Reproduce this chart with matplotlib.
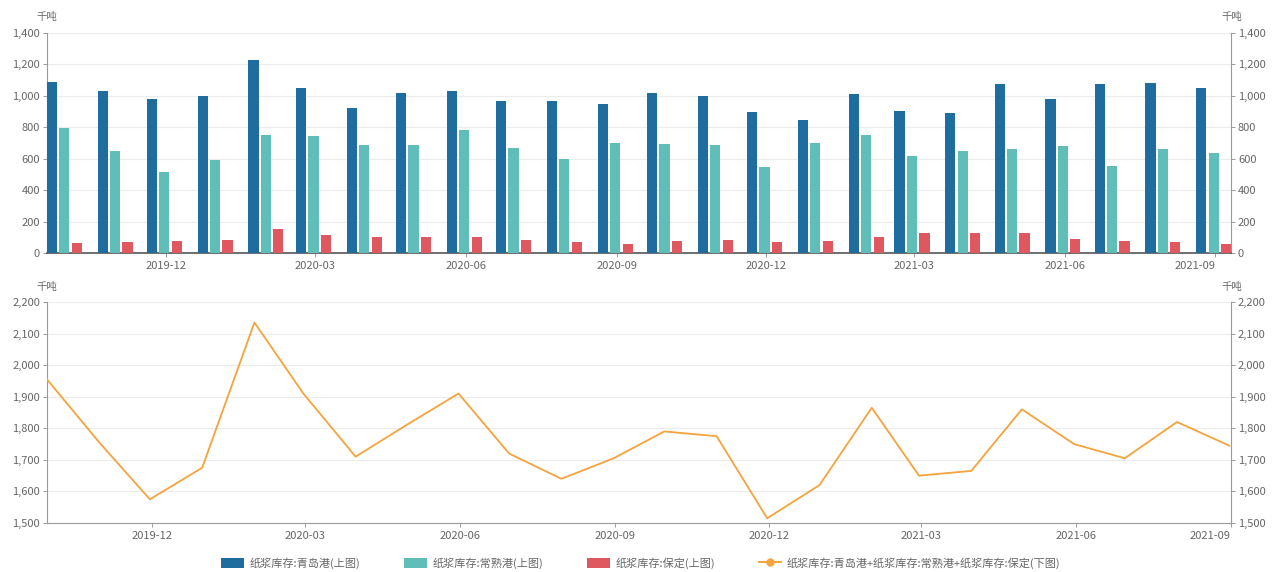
import matplotlib
matplotlib.use("Agg")
import matplotlib.pyplot as plt
import matplotlib.dates as mdates
import numpy as np
import pandas as pd
from matplotlib.lines import Line2D
from matplotlib.patches import Patch

plt.rcParams['font.family'] = ['Noto Sans CJK SC', 'DejaVu Sans']

dates = pd.date_range("2019-09-30", "2021-08-31", freq="ME")
qingdao = [1090, 1030, 980, 1000, 1230, 1050, 920, 1020, 1030, 970, 970, 950,
           1020, 1000, 900, 845, 1010, 905, 890, 1075, 980, 1075, 1085, 1050]
changshu = [795, 650, 515, 590, 750, 745, 690, 690, 780, 670, 600, 700,
            695, 685, 550, 700, 750, 620, 650, 660, 680, 555, 665, 635]
baoding = [65, 70, 75, 85, 155, 115, 100, 105, 100, 80, 70, 55,
           75, 85, 70, 75, 105, 125, 125, 125, 90, 75, 70, 60]
total = [1955, 1755, 1575, 1675, 2135, 1910, 1710, 1810, 1910, 1720, 1640, 1705,
         1790, 1775, 1515, 1620, 1865, 1650, 1665, 1860, 1750, 1705, 1820, 1745]

labels = ["纸浆库存:青岛港(上图)", "纸浆库存:常熟港(上图)", "纸浆库存:保定(上图)",
          "纸浆库存:青岛港+纸浆库存:常熟港+纸浆库存:保定(下图)"]
unit = "千吨"

c_blue = "#1f6c9e"
c_teal = "#5fbfb8"
c_red = "#e0585f"
c_line = "#f5a33c"
grid_c = "#ececec"
axis_c = "#9a9a9a"
text_c = "#666666"

W, H = 1280, 572
fig = plt.figure(figsize=(W / 100, H / 100), dpi=100)

def ax_rect(l, t, r, b):
    return [l / W, 1 - b / H, (r - l) / W, (b - t) / H]

ax1 = fig.add_axes(ax_rect(47, 33, 1231, 253))
ax2 = fig.add_axes(ax_rect(47, 302, 1231, 523))

x = mdates.date2num(dates)
bw = 6.2
off = 7.6
ax1.bar(x - off, qingdao, width=bw, color=c_blue, zorder=3)
ax1.bar(x, changshu, width=bw, color=c_teal, zorder=3)
ax1.bar(x + off, baoding, width=bw, color=c_red, zorder=3)
ax1.set_xlim(x[0] - 10.5, x[-1] + 10.5)
ax1.set_ylim(0, 1400)
ax1.set_yticks(np.arange(0, 1401, 200))

ax2.plot(x, total, color=c_line, lw=1.3, zorder=3)
ax2.set_xlim(x[0], x[-1])
ax2.set_ylim(1500, 2200)
ax2.set_yticks(np.arange(1500, 2201, 100))

tick_dates = pd.date_range("2019-12-01", "2021-09-01", freq="3MS")
for ax in (ax1, ax2):
    ax.set_xticks(mdates.date2num(tick_dates))
    ax.set_xticklabels([d.strftime("%Y-%m") for d in tick_dates])
    ax.grid(axis='y', color=grid_c, lw=0.8, zorder=0)
    ax.spines["top"].set_visible(False)
    for s in ("left", "right", "bottom"):
        ax.spines[s].set_color(axis_c)
        ax.spines[s].set_linewidth(0.8)
    ax.tick_params(axis='both', colors=axis_c, labelcolor=text_c, labelsize=8,
                   length=3, width=0.7)
    ax.tick_params(axis='y', which='both', left=True, right=True,
                   labelleft=True, labelright=True, pad=2)
    ax.tick_params(axis='x', pad=3)
    ax.yaxis.set_major_formatter(matplotlib.ticker.FuncFormatter(lambda v, p: f"{int(v):,}"))
    ax.set_axisbelow(True)

ax1.spines["bottom"].set_color("#555555")
ax1.spines["bottom"].set_linewidth(1.2)
ax1.get_xticklabels()[-1].set_ha("right")
ax2.get_xticklabels()[-1].set_ha("right")

for ty in (17, 287):
    fig.text(47 / W, 1 - ty / H, unit, ha='center', va='center', fontsize=7.5, color=text_c)
    fig.text(1232 / W, 1 - ty / H, unit, ha='center', va='center', fontsize=7.5, color=text_c)

handles = [Patch(facecolor=c_blue, edgecolor='none'),
           Patch(facecolor=c_teal, edgecolor='none'),
           Patch(facecolor=c_red, edgecolor='none'),
           Line2D([0], [0], color=c_line, lw=1.4, marker='o', markersize=5,
                  markerfacecolor=c_line, markeredgecolor=c_line)]
fig.legend(handles, labels, loc='center', bbox_to_anchor=(641 / W, 1 - 563 / H),
           ncol=4, frameon=False, fontsize=8, labelcolor=text_c,
           handlelength=2.0, handleheight=1.1, columnspacing=4.0, handletextpad=0.5)

fig.savefig("out.png", dpi=100, facecolor="white")
